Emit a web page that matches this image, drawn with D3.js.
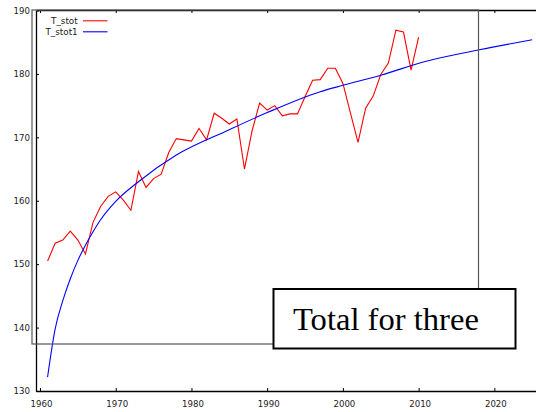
<!DOCTYPE html>
<html><head><meta charset="utf-8">
<script src="https://cdn.jsdelivr.net/npm/d3@7/dist/d3.min.js"></script>
<style>body{margin:0;background:#fff}svg{display:block}</style>
</head><body>
<script>
// ---- data ----
const stotYears = [1961,1962,1963,1964,1965,1966,1967,1968,1969,1970,1971,1972,1973,1974,1975,1976,1977,1978,1979,1980,1981,1982,1983,1984,1985,1986,1987,1988,1989,1990,1991,1992,1993,1994,1995,1996,1997,1998,1999,2000,2001,2002,2003,2004,2005,2006,2007,2008,2009,2010];
const stotValues = [150.5,153.3,153.8,155.2,153.8,151.6,156.6,159.1,160.7,161.4,160.1,158.5,164.6,162.1,163.5,164.2,167.6,169.8,169.6,169.4,171.4,169.6,173.8,173.0,172.1,172.9,165.0,171.0,175.4,174.3,175.0,173.4,173.7,173.7,176.4,179.0,179.1,180.9,180.9,178.5,173.8,169.2,174.6,176.5,179.9,181.7,186.9,186.6,180.6,185.8];
const fitYears = [1961,1962,1963,1964,1965,1966,1967,1968,1970,1973,1978,1985,1990,1997,2000,2005,2011,2018,2025];
const fitValues = [132.2,139.8,144.2,147.7,150.6,153.0,155.1,157.0,159.9,163.0,167.2,171.2,173.9,177.2,178.2,179.8,182.0,183.8,185.4];
const xTicks = [1960,1970,1980,1990,2000,2010,2020];
const yTicks = [130,140,150,160,170,180,190];
const seriesNames = ["T_stot","T_stot1"];
const seriesColors = ["#ff0000","#0000ff"];
const annotation = "Total for three";

const W = 536, H = 412;
const svg = d3.select("body").append("svg").attr("width", W).attr("height", H);

const x = d3.scaleLinear().domain([1959.47, 2025.5]).range([36, 536]);
const y = d3.scaleLinear().domain([130, 190]).range([391, 10.5]);

const tickFont = "DejaVu Sans, sans-serif";

// clip
svg.append("clipPath").attr("id","clip").append("rect")
  .attr("x",36).attr("y",10).attr("width",500).attr("height",381);

// axes
const gx = svg.append("g").attr("transform","translate(0,391)")
  .call(d3.axisBottom(x).tickValues(xTicks).tickFormat(d3.format("d")).tickSize(-3).tickSizeOuter(0).tickPadding(10));
const gxt = svg.append("g").attr("transform","translate(0,10)")
  .call(d3.axisTop(x).tickValues(xTicks).tickFormat("").tickSize(-3).tickSizeOuter(0));
const gy = svg.append("g").attr("transform","translate(36,0)")
  .call(d3.axisLeft(y).tickValues(yTicks).tickSize(-3).tickSizeOuter(0).tickPadding(6));
[gx,gxt,gy].forEach(g=>{
  g.selectAll("text").attr("font-family",tickFont).attr("font-size","8.6px").attr("fill","#222");
  g.selectAll("line").attr("stroke","#000");
  g.select(".domain").attr("stroke","#000").attr("stroke-width",1.3);
});
gx.selectAll("text").attr("dx","1");

// lines
const line = d3.line().x(d=>x(d[0])).y(d=>y(d[1]));
const plot = svg.append("g").attr("clip-path","url(#clip)");
plot.append("path")
  .datum(stotYears.map((t,i)=>[t,stotValues[i]]))
  .attr("fill","none").attr("stroke",seriesColors[0]).attr("stroke-width",1.1)
  .attr("d", line);
plot.append("path")
  .datum(fitYears.map((t,i)=>[t,fitValues[i]]))
  .attr("fill","none").attr("stroke",seriesColors[1]).attr("stroke-width",1.1)
  .attr("d", line.curve(d3.curveMonotoneX));

// legend
const leg = svg.append("g");
seriesNames.forEach((n,i)=>{
  const yy = 20.8 + i*11;
  leg.append("text").attr("x",77.7).attr("y",yy).attr("dy","0.35em")
    .attr("text-anchor","end").attr("font-family",tickFont).attr("font-size","8.8px")
    .attr("fill","#222").text(n);
  leg.append("line").attr("x1",83).attr("x2",107.5).attr("y1",yy).attr("y2",yy)
    .attr("stroke",seriesColors[i]).attr("stroke-width",1.1);
});

// overlay frame
svg.append("rect").attr("x",32).attr("y",10).attr("width",446.5).attr("height",334)
  .attr("fill","none").attr("stroke","#555").attr("stroke-width",1.2);

// annotation box
svg.append("rect").attr("x",273.5).attr("y",289).attr("width",242).attr("height",59.5)
  .attr("fill","#fff").attr("stroke","#000").attr("stroke-width",2);
svg.append("text").attr("x",293).attr("y",329.5)
  .attr("font-family","Liberation Serif, Times New Roman, serif").attr("font-size","32.6px")
  .attr("fill","#000").text(annotation);
</script>
</body></html>
